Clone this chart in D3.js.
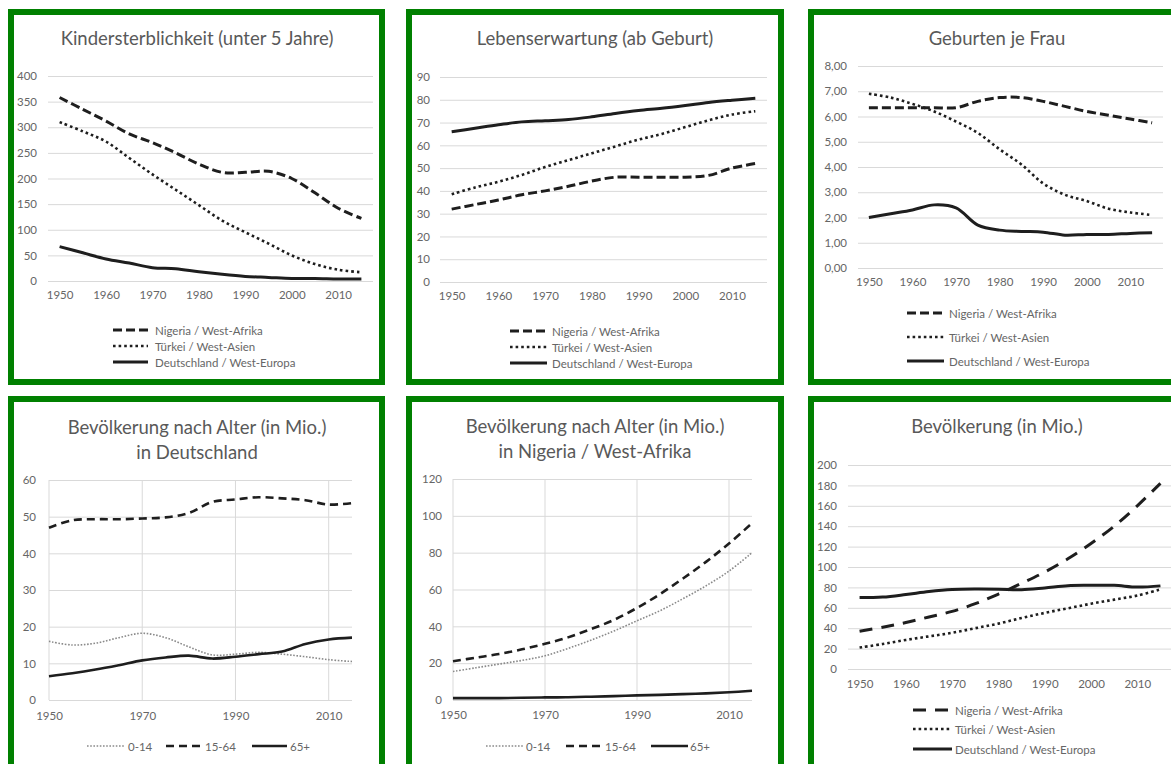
<!DOCTYPE html>
<html>
<head>
<meta charset="utf-8">
<script src="https://cdn.jsdelivr.net/npm/d3@7"></script>
<style>
  html, body { margin: 0; padding: 0; background: #fff; }
  svg { display: block; font-family: Lato, "Open Sans", sans-serif; }
</style>
</head>
<body>
<svg id="chart" width="1171" height="764"></svg>
<script>
// ---- data -------------------------------------------------------------
const years = [1950, 1955, 1960, 1965, 1970, 1975, 1980, 1985, 1990, 1995, 2000, 2005, 2010, 2015];
const decadeLabels = [1950, 1960, 1970, 1980, 1990, 2000, 2010];
const twentyYearLabels = [1950, 1970, 1990, 2010];

const regionNames = ["Nigeria / West-Afrika", "Türkei / West-Asien", "Deutschland / West-Europa"];
const ageGroups = ["0-14", "15-64", "65+"];

// Kindersterblichkeit (unter 5 Jahre)
const mortalityNigeria = [358, 335, 312, 287, 270, 250, 228, 212, 212, 214, 200, 172, 142, 122];
const mortalityTurkey  = [310, 292, 272, 240, 208, 178, 148, 118, 95, 73, 50, 33, 22, 17];
const mortalityGermany = [67, 55, 43, 35, 26, 24, 18, 13, 9, 7, 5, 5, 4, 4];
const mortalityTicks = [0, 50, 100, 150, 200, 250, 300, 350, 400];

// Lebenserwartung (ab Geburt)
const lifeNigeria = [32, 34, 36, 38.3, 40, 42, 44.3, 46, 46, 46, 46, 46.8, 50, 52];
const lifeTurkey  = [38.5, 41.5, 44, 47, 50.5, 53.5, 56.5, 59.5, 62.5, 65, 68, 71, 73.5, 75];
const lifeGermany = [66, 67.5, 69, 70.3, 70.8, 71.3, 72.5, 74, 75.3, 76.3, 77.5, 78.8, 79.8, 80.7];
const lifeTicks = [0, 10, 20, 30, 40, 50, 60, 70, 80, 90];

// Geburten je Frau
const birthsNigeria = [6.35, 6.35, 6.35, 6.35, 6.35, 6.6, 6.75, 6.75, 6.6, 6.4, 6.2, 6.05, 5.9, 5.75];
const birthsTurkey  = [6.9, 6.75, 6.5, 6.2, 5.8, 5.35, 4.7, 4.1, 3.35, 2.9, 2.65, 2.35, 2.2, 2.1];
const birthsGermany = [2.0, 2.15, 2.3, 2.5, 2.38, 1.7, 1.5, 1.45, 1.42, 1.3, 1.33, 1.33, 1.37, 1.4];
const birthsTicks = [0, 1, 2, 3, 4, 5, 6, 7, 8];

// Bevölkerung nach Alter in Deutschland (Mio.)
const germanyYoung   = [16, 15, 15.5, 17, 18.2, 17, 14.5, 12.3, 12.5, 13, 12.5, 11.8, 11, 10.5];
const germanyWorking = [47, 49, 49.3, 49.3, 49.5, 49.8, 51, 54, 54.7, 55.3, 55, 54.5, 53.3, 53.7];
const germanyOld     = [6.5, 7.3, 8.3, 9.5, 10.8, 11.6, 12.1, 11.3, 11.8, 12.5, 13.2, 15.3, 16.5, 17];
const germanyAgeTicks = [0, 10, 20, 30, 40, 50, 60];

// Bevölkerung nach Alter in Nigeria / West-Afrika (Mio.)
const nigeriaYoung   = [15.5, 17.5, 19.5, 21.5, 24, 28, 32.5, 37.5, 43, 48.5, 55, 62, 70, 80];
const nigeriaWorking = [21, 23, 25, 27.5, 30.5, 34, 38.5, 43.5, 50, 57.5, 66, 75, 85, 96];
const nigeriaOld     = [1, 1, 1, 1.2, 1.4, 1.5, 1.8, 2.1, 2.5, 2.8, 3.2, 3.6, 4.2, 5];
const nigeriaAgeTicks = [0, 20, 40, 60, 80, 100, 120];

// Bevölkerung (in Mio.)
const popNigeria = [37, 41, 45.5, 51, 56.5, 64, 73.5, 84, 95, 108, 123, 140, 160, 182];
const popTurkey  = [21, 24.5, 28.5, 32, 35.5, 40, 44.5, 50, 55, 59.5, 64, 68, 72, 78];
const popGermany = [70, 70.5, 73, 76, 78, 78.5, 78.3, 77.7, 79.5, 81.7, 82, 82, 80.3, 81.5];
const popTicks = [0, 20, 40, 60, 80, 100, 120, 140, 160, 180, 200];

// ---- styles -----------------------------------------------------------
const INK = "#1e1e1e";
const TEXT = "#666666";
const GRID = "#d9d9d9";
const FRAME = "#008000";

const styleDash   = { stroke: INK, width: 3, dash: "9,4" };
const styleDot    = { stroke: INK, width: 2.6, dash: "2.6,3" };
const styleSolid  = { stroke: INK, width: 3, dash: null };
const styleLongDash = { stroke: INK, width: 3, dash: "13,9" };
const styleAgeDot = { stroke: "#8a8a8a", width: 1.6, dash: "1.6,1.6" };
const styleAgeDash = { stroke: INK, width: 2.6, dash: "8,5" };
const styleAgeSolid = { stroke: INK, width: 2.6, dash: null };

const svg = d3.select("#chart");
svg.append("rect").attr("width", 1171).attr("height", 764).attr("fill", "#fff");

const commaFormat = d3.formatLocale({ decimal: ",", thousands: ".", grouping: [3], currency: ["", "€"] }).format(".2f");

function applyStyle(sel, st) {
  sel.attr("fill", "none")
    .attr("stroke", st.stroke)
    .attr("stroke-width", st.width)
    .attr("stroke-dasharray", st.dash)
    .attr("stroke-linejoin", "round");
}

function drawPanel(p) {
  const g = svg.append("g");

  // frame
  g.append("rect")
    .attr("x", p.frame[0]).attr("y", p.frame[1])
    .attr("width", p.frame[2]).attr("height", p.frame[3])
    .attr("fill", "#fff").attr("stroke", FRAME).attr("stroke-width", 6);

  // title
  p.title.forEach((t, i) => {
    g.append("text")
      .attr("x", p.titleX).attr("y", p.titleY + i * 25)
      .attr("text-anchor", "middle").attr("dominant-baseline", "central")
      .attr("font-size", 18.5).attr("fill", "#595959")
      .text(t);
  });

  const y = d3.scaleLinear().domain(p.yDomain).range(p.yRange);
  let x;
  if (p.xMode === "point") {
    x = d3.scalePoint().domain(years).range(p.xRange).padding(0.5);
  } else {
    x = d3.scaleLinear().domain([1950, 2015]).range(p.xRange);
  }

  // horizontal grid
  const yAxis = d3.axisLeft(y).tickValues(p.yTicks).tickSize(-(p.xRange[1] - p.xRange[0]))
    .tickPadding(p.yRange && (p.xRange[0] - p.yLabelX))
    .tickFormat(p.yFormat || d3.format("d"));
  const ya = g.append("g").attr("transform", `translate(${p.xRange[0]},0)`).call(yAxis);
  ya.select(".domain").remove();
  ya.selectAll(".tick line").attr("stroke", GRID).attr("stroke-width", 1);
  ya.selectAll(".tick text").attr("fill", TEXT).attr("font-size", 11.5).attr("font-family", "Lato, sans-serif");

  // vertical grid for the linear year axis
  if (p.xMode === "linear") {
    g.append("g").selectAll("line").data(twentyYearLabels).join("line")
      .attr("x1", d => x(d)).attr("x2", d => x(d))
      .attr("y1", p.yRange[0]).attr("y2", p.yRange[1])
      .attr("stroke", GRID).attr("stroke-width", 1);
  }

  // x labels
  const xa = g.append("g").attr("transform", `translate(0,${p.yRange[0]})`)
    .call(d3.axisBottom(x).tickValues(p.xTicks).tickSize(0).tickPadding(p.xLabelPad).tickFormat(d3.format("d")));
  xa.select(".domain").remove();
  xa.selectAll(".tick text").attr("fill", TEXT).attr("font-size", 11.5).attr("font-family", "Lato, sans-serif");

  // series
  const line = d3.line()
    .x((d, i) => x(years[i]))
    .y(d => y(d))
    .curve(d3.curveCatmullRom.alpha(0.5));

  p.series.forEach(s => {
    g.append("path").datum(s.values).attr("d", line).call(applyStyle, s.style);
  });

  // legend
  p.series.forEach((s, i) => {
    const pos = p.legend[i];
    g.append("line")
      .attr("x1", pos[0]).attr("x2", pos[1])
      .attr("y1", pos[3]).attr("y2", pos[3])
      .call(applyStyle, s.style);
    g.append("text")
      .attr("x", pos[2]).attr("y", pos[3])
      .attr("dominant-baseline", "central")
      .attr("font-size", 11.5).attr("fill", TEXT)
      .text(s.name);
  });
}

// ---- panels -----------------------------------------------------------
drawPanel({
  frame: [11, 12, 371, 370],
  title: ["Kindersterblichkeit (unter 5 Jahre)"], titleX: 197, titleY: 38,
  xMode: "point", xRange: [48, 373], yRange: [281, 76], yDomain: [0, 400],
  yTicks: mortalityTicks, yLabelX: 37, xTicks: decadeLabels, xLabelPad: 10,
  series: [
    { name: regionNames[0], values: mortalityNigeria, style: styleDash },
    { name: regionNames[1], values: mortalityTurkey, style: styleDot },
    { name: regionNames[2], values: mortalityGermany, style: styleSolid }
  ],
  legend: [[113, 148, 155, 330], [113, 148, 155, 346], [113, 148, 155, 362]]
});

drawPanel({
  frame: [409, 12, 372, 370],
  title: ["Lebenserwartung (ab Geburt)"], titleX: 595, titleY: 38,
  xMode: "point", xRange: [440, 767], yRange: [282, 77], yDomain: [0, 90],
  yTicks: lifeTicks, yLabelX: 430, xTicks: decadeLabels, xLabelPad: 10,
  series: [
    { name: regionNames[0], values: lifeNigeria, style: styleDash },
    { name: regionNames[1], values: lifeTurkey, style: styleDot },
    { name: regionNames[2], values: lifeGermany, style: styleSolid }
  ],
  legend: [[510, 547, 552, 331], [510, 547, 552, 347], [510, 547, 552, 363]]
});

drawPanel({
  frame: [811, 12, 380, 370],
  title: ["Geburten je Frau"], titleX: 997, titleY: 38,
  xMode: "point", xRange: [858, 1163], yRange: [268, 66], yDomain: [0, 8],
  yTicks: birthsTicks, yLabelX: 847, yFormat: commaFormat, xTicks: decadeLabels, xLabelPad: 10,
  series: [
    { name: regionNames[0], values: birthsNigeria, style: styleDash },
    { name: regionNames[1], values: birthsTurkey, style: styleDot },
    { name: regionNames[2], values: birthsGermany, style: styleSolid }
  ],
  legend: [[907, 944, 949, 313], [907, 944, 949, 337], [907, 944, 949, 361]]
});

drawPanel({
  frame: [11, 399, 371, 400],
  title: ["Bevölkerung nach Alter (in Mio.)", "in Deutschland"], titleX: 197, titleY: 427,
  xMode: "linear", xRange: [49, 352], yRange: [700, 480], yDomain: [0, 60],
  yTicks: germanyAgeTicks, yLabelX: 36, xTicks: twentyYearLabels, xLabelPad: 12,
  series: [
    { name: ageGroups[0], values: germanyYoung, style: styleAgeDot },
    { name: ageGroups[1], values: germanyWorking, style: styleAgeDash },
    { name: ageGroups[2], values: germanyOld, style: styleAgeSolid }
  ],
  legend: [[87, 125, 128, 746], [166, 203, 205, 746], [252, 287, 290, 746]]
});

drawPanel({
  frame: [409, 399, 372, 400],
  title: ["Bevölkerung nach Alter (in Mio.)", "in Nigeria / West-Afrika"], titleX: 595, titleY: 426,
  xMode: "linear", xRange: [453, 752], yRange: [700, 479], yDomain: [0, 120],
  yTicks: nigeriaAgeTicks, yLabelX: 442, xTicks: twentyYearLabels, xLabelPad: 11,
  series: [
    { name: ageGroups[0], values: nigeriaYoung, style: styleAgeDot },
    { name: ageGroups[1], values: nigeriaWorking, style: styleAgeDash },
    { name: ageGroups[2], values: nigeriaOld, style: styleAgeSolid }
  ],
  legend: [[486, 523, 526, 746], [566, 603, 605, 746], [651, 688, 690, 746]]
});

drawPanel({
  frame: [811, 399, 380, 400],
  title: ["Bevölkerung (in Mio.)"], titleX: 997, titleY: 426,
  xMode: "point", xRange: [848, 1172], yRange: [669, 465], yDomain: [0, 200],
  yTicks: popTicks, yLabelX: 837, xTicks: decadeLabels, xLabelPad: 11,
  series: [
    { name: regionNames[0], values: popNigeria, style: styleLongDash },
    { name: regionNames[1], values: popTurkey, style: styleDot },
    { name: regionNames[2], values: popGermany, style: styleSolid }
  ],
  legend: [[913, 952, 955, 710], [913, 952, 955, 729], [913, 952, 955, 749]]
});
</script>
</body>
</html>
